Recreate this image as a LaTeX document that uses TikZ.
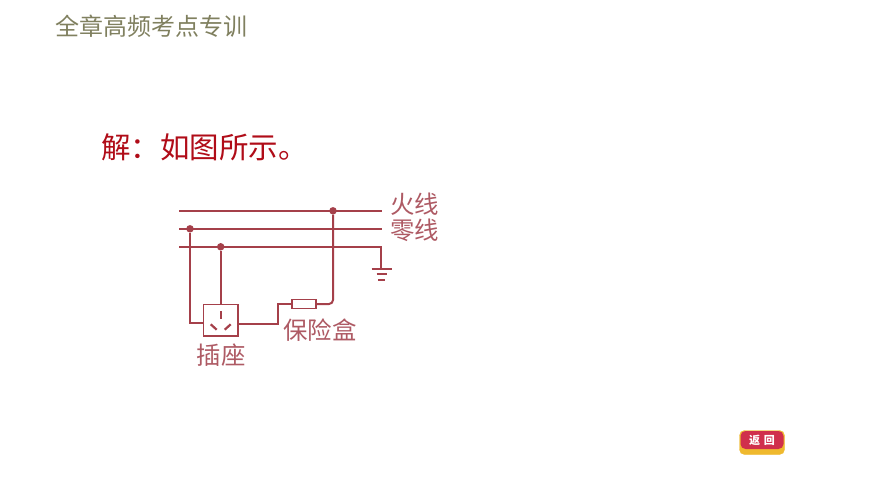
\documentclass[tikz,border=0pt]{standalone}
\usepackage{fontspec}
\setmainfont{Noto Sans CJK SC}
\definecolor{wirered}{HTML}{A5404A}
\definecolor{labelred}{HTML}{AE5A64}
\definecolor{titlegray}{HTML}{80805F}
\definecolor{answerred}{HTML}{B00C18}
\definecolor{btnred}{HTML}{D02F4C}
\definecolor{btnyellow}{HTML}{EFB92E}
\tikzset{
  wire/.style={draw=wirered, line width=2pt},
  junction/.style={circle, fill=wirered, inner sep=0pt, minimum size=7.5pt},
  label/.style={text=labelred, font=\fontsize{24.4}{24}\selectfont, inner sep=0pt},
}
\begin{document}
\begin{tikzpicture}[x=1pt,y=-1pt]
  \useasboundingbox (0,0) rectangle (870,489);
  \fill[white] (0,0) rectangle (870,489);

  % heading and answer
  \node[text=titlegray, font=\fontsize{24}{24}\selectfont, inner sep=0pt, anchor=west] (title) at (55,26) {全章高频考点专训};
  \node[text=answerred, font=\fontsize{29.5}{30}\selectfont, inner sep=0pt, anchor=west] (answer) at (101,147) {解\char"FF1A 如图所示。};

  % line ends
  \coordinate (L0) at (179,210.8);
  \coordinate (L1) at (382,210.8);
  \coordinate (N0) at (179,228.8);
  \coordinate (N1) at (382,228.8);
  \coordinate (E0) at (179,246.8);
  \coordinate (E1) at (381,246.8);
  \coordinate (G0) at (381,268);

  % junctions
  \node[junction] (jL) at (333,210.8) {};
  \node[junction] (jN) at (190,228.8) {};
  \node[junction] (jE) at (220.7,246.8) {};

  % socket and fuse
  \node[wire, draw, line width=1.6pt, minimum width=34.5pt, minimum height=31.5pt, inner sep=0pt] (socket) at (220.7,320.2) {};
  \node[wire, draw, line width=1.3pt, minimum width=24pt, minimum height=9pt, inner sep=0pt] (fuse) at (304,304) {};
  \coordinate (sockL) at (socket.west |- 0,323);
  \coordinate (sockR) at (socket.east |- 0,324.3);
  \coordinate (bend) at (277.7,324.3);

  % mains
  \draw[wire] (L0) -- (L1);
  \draw[wire] (N0) -- (N1);
  \draw[wire] (E0) -- (E1) -- (G0);

  % ground
  \draw[wire] (371.5,268.8) -- (392,268.8);
  \draw[wire] (376.5,273.8) -- (387,273.8);
  \draw[wire] (378,279.8) -- (385,279.8);

  % branches
  \draw[wire] (jE) -- (socket.north);
  \draw[wire] (jN) |- (sockL);
  \draw[wire] (sockR) -- (bend) |- (fuse.west);
  \draw[wire, rounded corners=4pt] (fuse.east) -| (jL);

  % socket pins
  \draw[wire, line width=2.2pt] (220.7,311) -- (220.7,319);
  \draw[wire, line width=2.2pt] (210.7,324.3) -- (216.7,329.7);
  \draw[wire, line width=2.2pt] (230.7,324.3) -- (224.7,329.7);

  % labels
  \node[label, anchor=west] (live) at (390,204) {火线};
  \node[label, anchor=west] (neutral) at (390,230.5) {零线};
  \node[label, anchor=west] (fusebox) at (283,330.5) {保险盒};
  \node[label, anchor=west] (socketlabel) at (196.5,355.5) {插座};

  % back button
  \node[draw=btnyellow, fill=btnyellow, rounded corners=5pt, minimum width=45pt, minimum height=24pt, inner sep=0pt] (btnbase) at (762,442.5) {};
  \node[fill=btnred, rounded corners=5pt, minimum width=43pt, minimum height=18pt, inner sep=0pt, text=white, font=\fontsize{11}{11}\selectfont\bfseries] (btn) at (762,440) {返\,\,回};
\end{tikzpicture}
\end{document}
